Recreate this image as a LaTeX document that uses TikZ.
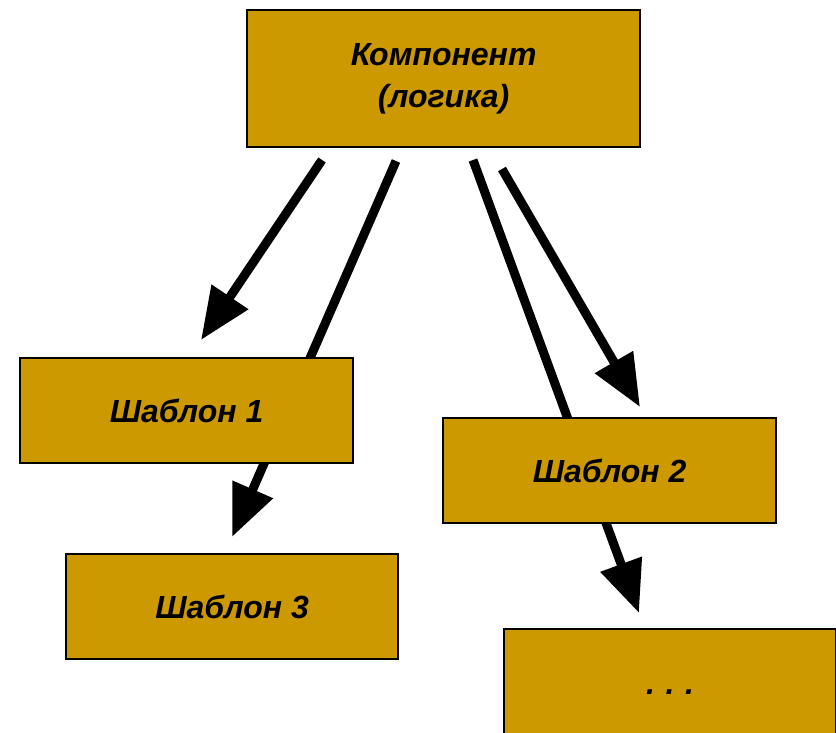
\documentclass[tikz,border=0pt]{standalone}
\usepackage{fontspec}
\setmainfont{Liberation Sans}
\usetikzlibrary{arrows.meta}
\definecolor{boxfill}{HTML}{CC9900}
\tikzset{
  box/.style={draw=black, line width=2.2pt, fill=boxfill, inner sep=0pt, anchor=north west,
    font=\fontsize{32}{34}\selectfont\bfseries\itshape, align=center},
  link/.style={line width=9pt, line cap=butt},
  arrowlink/.style={link, -{Triangle[length=52pt,width=42pt]}}
}
\begin{document}
\begin{tikzpicture}[x=1pt,y=-1pt]
\useasboundingbox (0,0) rectangle (836,733);
\clip (0,0) rectangle (836,733);
% connectors (drawn first, boxes cover them)
\coordinate (s1) at (322,160);
\coordinate (e1) at (201,340);
\coordinate (s2) at (396,161);
\coordinate (e2) at (232,537);
\coordinate (s3) at (473,160);
\coordinate (e3) at (639,613);
\coordinate (s4) at (502,169);
\coordinate (e4) at (640,407);
\draw[arrowlink] (s1) -- (e1);
\draw[arrowlink] (s2) -- (e2);
\draw[arrowlink] (s3) -- (e3);
\draw[arrowlink] (s4) -- (e4);
% boxes
\node[box, minimum width=393pt, minimum height=137pt,
  font=\fontsize{32}{42}\selectfont\bfseries\itshape] (comp) at (246,9) {Компонент\\(логика)};
\node[box, minimum width=333pt, minimum height=105pt] (t1) at (19,357) {Шаблон 1};
\node[box, minimum width=332pt, minimum height=105pt] (t3) at (65,553) {Шаблон 3};
\node[box, minimum width=333pt, minimum height=105pt] (t2) at (442,417) {Шаблон 2};
\node[box, minimum width=332pt, minimum height=130pt, text depth=4pt] (t4) at (503,628) {.\,\,.\,\,.};
\end{tikzpicture}
\end{document}
